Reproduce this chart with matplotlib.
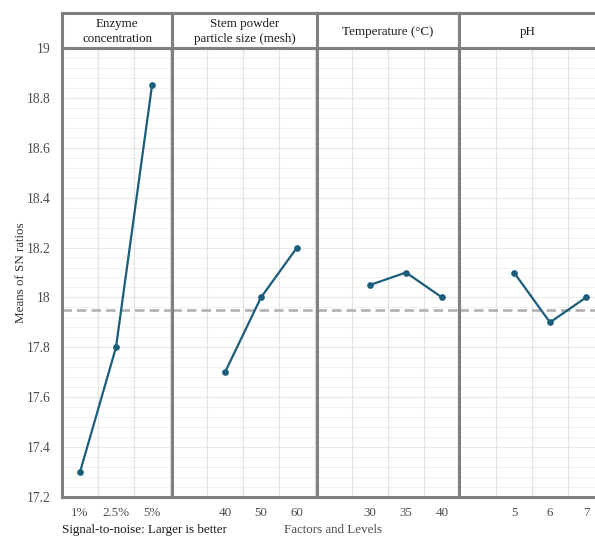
#!/usr/bin/env python3
import numpy as np
import matplotlib.pyplot as plt

plt.rcParams["font.family"] = ["Liberation Serif", "DejaVu Serif"]

# factor names and levels
FACTORS = ["Enzyme\nconcentration", "Stem powder\nparticle size (mesh)",
           "Temperature (°C)", "pH"]
LEVELS = [["1%", "2.5%", "5%"],
          ["40", "50", "60"],
          ["30", "35", "40"],
          ["5", "6", "7"]]
SN_MEANS = [[17.3, 17.8, 18.85],
            [17.7, 18.0, 18.2],
            [18.05, 18.1, 18.0],
            [18.1, 17.9, 18.0]]
GRAND_MEAN = 17.95

LINE_COLOR = "#1b5d7a"
FRAME_COLOR = "#808080"
FS = 9.4

W, H = 595, 537
DPI = 100
UNIT = 36.0  # px per category slot

# panel edges in pixels (left, right) and slot offset of first level
panels = [(62, 172, 0.5), (172, 317, 1.5), (317, 459, 1.5), (459, 597, 1.5)]
origins = [62, 171, 316, 460]
top, bottom = 48, 497
strip_top = 13

fig = plt.figure(figsize=(W / DPI, H / DPI), dpi=DPI)


def fx(px):
    return px / W


def fy(py):
    return 1 - py / H


for i, ((left, right, off), org) in enumerate(zip(panels, origins)):
    ax = fig.add_axes([fx(left), fy(bottom), fx(right - left), fy(top) - fy(bottom)])
    x0 = (left - org) / UNIT
    x1 = (right - org) / UNIT
    ax.set_xlim(x0, x1)
    ax.set_ylim(17.2, 19.0)

    # grid
    for g in np.arange(17.2, 19.0001, 0.04):
        ax.axhline(g, color="#f2f2f2", lw=0.7, zorder=0)
    for g in np.arange(17.2, 19.0001, 0.2):
        ax.axhline(g, color="#e8e8e8", lw=0.8, zorder=0)
    for g in range(int(np.ceil(x0 + 0.01)), int(np.floor(x1 - 0.01)) + 1):
        ax.axvline(g, color="#e3e3e3", lw=0.9, zorder=0)

    xs = off + np.arange(len(LEVELS[i]))
    ax.axhline(GRAND_MEAN, color="#b0b0b0", lw=1.9,
               linestyle=(0, (3.6, 1.9)), zorder=1)
    ax.plot(xs, SN_MEANS[i], "-o", color=LINE_COLOR, lw=1.6,
            markersize=3.8, zorder=3, clip_on=False)

    ax.set_xticks(xs)
    ax.set_xticklabels(LEVELS[i])
    ax.tick_params(axis="x", length=0, pad=7, labelsize=FS, labelcolor="#4d4d4d")
    if i == 0:
        yt = np.arange(17.2, 19.0001, 0.2).round(1)
        ax.set_yticks(yt)
        ax.set_yticklabels([f"{v:g}" for v in yt])
        ax.tick_params(axis="y", length=0, pad=8, labelsize=FS + 0.4,
                       labelcolor="#4d4d4d")
        ax.set_ylabel("Means of SN ratios", fontsize=FS, color="#333333", labelpad=0)
    else:
        ax.set_yticks([])

    for s in ax.spines.values():
        s.set_color(FRAME_COLOR)
        s.set_linewidth(2.2)

    # strip header
    sax = fig.add_axes([fx(left), fy(top), fx(right - left), fy(strip_top) - fy(top)])
    sax.set_xticks([])
    sax.set_yticks([])
    for s in sax.spines.values():
        s.set_color(FRAME_COLOR)
        s.set_linewidth(2.2)
    sax.text(0.5, 0.47, FACTORS[i], ha="center", va="center", fontsize=FS,
             color="#1a1a1a", linespacing=1.3, transform=sax.transAxes)

fig.text(fx(62), fy(530), "Signal-to-noise: Larger is better", ha="left",
         va="center", fontsize=FS, color="#1a1a1a")
fig.text(fx(333), fy(530), "Factors and Levels", ha="center", va="center",
         fontsize=FS, color="#4d4d4d")

fig.savefig("out.png", dpi=DPI, facecolor="white")
